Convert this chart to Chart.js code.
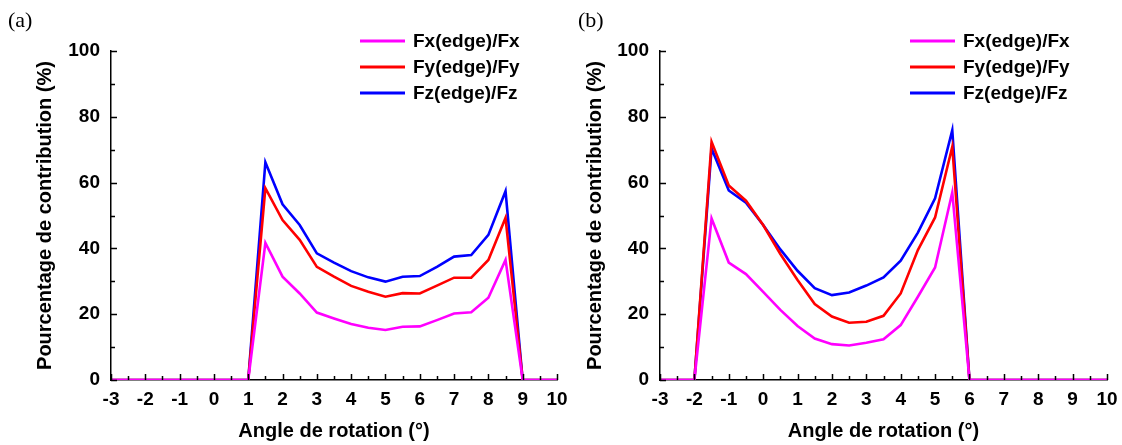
<!DOCTYPE html>
<html>
<head>
<meta charset="utf-8">
<script src="https://cdn.jsdelivr.net/npm/chart.js@4.4.0/dist/chart.umd.min.js"></script>
<style>
  body { margin: 0; background: #fff; }
  #wrap { position: relative; width: 1122px; height: 445px; overflow: hidden; }
  .panel { position: absolute; top: 0; height: 445px; }
  .tag { position: absolute; top: 9px; font-family: "Liberation Serif", "Times New Roman", serif; font-size: 22px; line-height: 1; }
</style>
</head>
<body>
<div id="wrap">
  <div class="panel" style="left:0;width:580px"><canvas id="chartA"></canvas></div>
  <div class="panel" style="left:561px;width:561px"><canvas id="chartB"></canvas></div>
  <div class="tag" style="left:8px">(a)</div>
  <div class="tag" style="left:578px">(b)</div>
</div>
<script>
// Angle de rotation, step 0.5 deg, same for both panels
const angles = [-3, -2.5, -2, -1.5, -1, -0.5, 0, 0.5, 1, 1.5, 2, 2.5, 3, 3.5, 4, 4.5, 5, 5.5, 6, 6.5, 7, 7.5, 8, 8.5, 9, 9.5, 10];

const seriesLabels = ['Fx(edge)/Fx', 'Fy(edge)/Fy', 'Fz(edge)/Fz'];
const seriesColors = ['#ff00ff', '#ff0000', '#0000ff'];

// panel (a)
const fxA = [0, 0, 0, 0, 0, 0, 0, 0, 0, 41.7, 31.4, 26.3, 20.5, 18.7, 17.0, 15.9, 15.2, 16.2, 16.3, 18.2, 20.2, 20.6, 25.0, 36.5, 0, 0, 0];
const fyA = [0, 0, 0, 0, 0, 0, 0, 0, 0, 58.3, 48.6, 42.6, 34.4, 31.4, 28.6, 26.8, 25.3, 26.4, 26.3, 28.7, 31.1, 31.1, 36.5, 49.3, 0, 0, 0];
const fzA = [0, 0, 0, 0, 0, 0, 0, 0, 0, 66.2, 53.4, 47.1, 38.5, 35.7, 33.1, 31.2, 29.9, 31.4, 31.6, 34.4, 37.5, 38.0, 44.1, 57.4, 0, 0, 0];

// panel (b)
const fxB = [0, 0, 0, 49.1, 35.7, 32.2, 26.8, 21.3, 16.4, 12.6, 10.9, 10.5, 11.3, 12.4, 16.7, 25.3, 34.2, 57.0, 0, 0, 0, 0, 0, 0, 0, 0, 0];
const fyB = [0, 0, 0, 72.4, 59.1, 54.5, 47.1, 38.3, 30.4, 23.1, 19.3, 17.4, 17.7, 19.5, 26.3, 39.5, 49.4, 70.9, 0, 0, 0, 0, 0, 0, 0, 0, 0];
const fzB = [0, 0, 0, 70.4, 57.6, 53.9, 47.1, 39.7, 33.2, 27.9, 25.8, 26.6, 28.7, 31.2, 36.3, 44.8, 55.2, 75.9, 0, 0, 0, 0, 0, 0, 0, 0, 0];

const xMin = -3, xMax = 10;
const yMin = 0, yMax = 100;

const FONT = '"Liberation Sans", Arial, sans-serif';

// ticks pointing inside the plot, majors + minors
const innerTicks = {
  id: 'innerTicks',
  afterDraw(chart) {
    const ctx = chart.ctx;
    const x = chart.scales.x, y = chart.scales.y;
    const area = chart.chartArea;
    ctx.save();
    ctx.strokeStyle = '#000';
    ctx.lineWidth = 1.5;
    ctx.beginPath();
    for (let v = xMin; v <= xMax; v += 0.5) {
      const px = Math.round(x.getPixelForValue(v)) + 0.5;
      const len = Number.isInteger(v) ? 6 : 4;
      ctx.moveTo(px, area.bottom);
      ctx.lineTo(px, area.bottom - len);
    }
    for (let v = yMin; v <= yMax; v += 10) {
      const py = Math.round(y.getPixelForValue(v)) + 0.5;
      const len = v % 20 === 0 ? 6 : 4;
      ctx.moveTo(area.left, py);
      ctx.lineTo(area.left + len, py);
    }
    ctx.stroke();
    ctx.restore();
  }
};

// legend sitting over the top right corner of the plot
const cornerLegend = {
  id: 'cornerLegend',
  afterDraw(chart) {
    const ctx = chart.ctx;
    const area = chart.chartArea;
    const x0 = area.right - 197;
    ctx.save();
    ctx.font = 'bold 19px ' + FONT;
    ctx.textBaseline = 'middle';
    ctx.fillStyle = '#000';
    chart.data.datasets.forEach((ds, i) => {
      const yy = area.top - 10 + i * 26;
      ctx.strokeStyle = ds.borderColor;
      ctx.lineWidth = 3;
      ctx.beginPath();
      ctx.moveTo(x0, yy);
      ctx.lineTo(x0 + 45, yy);
      ctx.stroke();
      ctx.fillText(ds.label, x0 + 53, yy + 1);
    });
    ctx.restore();
  }
};

function makeChart(id, values, plotLeft, padRight, titlePad) {
  const datasets = values.map((vals, i) => ({
    label: seriesLabels[i],
    data: angles.map((a, k) => ({ x: a, y: vals[k] })),
    borderColor: seriesColors[i],
    backgroundColor: seriesColors[i],
    borderWidth: 2.6,
    pointRadius: 0,
    tension: 0,
    fill: false
  }));

  return new Chart(document.getElementById(id), {
    type: 'line',
    data: { datasets: datasets },
    options: {
      responsive: true,
      maintainAspectRatio: false,
      animation: false,
      layout: { padding: { top: 51, right: padRight, bottom: 0, left: 0 } },
      plugins: {
        legend: { display: false },
        tooltip: { enabled: false }
      },
      scales: {
        x: {
          type: 'linear',
          min: xMin,
          max: xMax,
          grid: { display: false },
          border: { display: true, color: '#000', width: 1.5 },
          ticks: {
            stepSize: 1,
            padding: 0,
            color: '#000',
            font: { family: FONT, size: 19, weight: 'bold' }
          },
          title: {
            display: true,
            text: 'Angle de rotation (°)',
            color: '#000',
            padding: { top: 0, bottom: 2 },
            font: { family: FONT, size: 20, weight: 'bold' }
          },
          afterFit(scale) {
            scale.height = 65;
            scale.paddingLeft = 0;
            scale.paddingRight = 0;
          }
        },
        y: {
          min: yMin,
          max: yMax,
          grid: { display: false },
          border: { display: true, color: '#000', width: 1.5 },
          ticks: {
            stepSize: 20,
            padding: 3,
            color: '#000',
            font: { family: FONT, size: 19, weight: 'bold' }
          },
          title: {
            display: true,
            text: 'Pourcentage de contribution (%)',
            color: '#000',
            padding: { top: titlePad, bottom: 0 },
            font: { family: FONT, size: 20, weight: 'bold' }
          },
          afterFit(scale) {
            scale.width = plotLeft;
          }
        }
      }
    },
    plugins: [innerTicks, cornerLegend]
  });
}

makeChart('chartA', [fxA, fyA, fzA], 111, 23, 33);
makeChart('chartB', [fxB, fyB, fzB], 99, 15, 22);
</script>
</body>
</html>
